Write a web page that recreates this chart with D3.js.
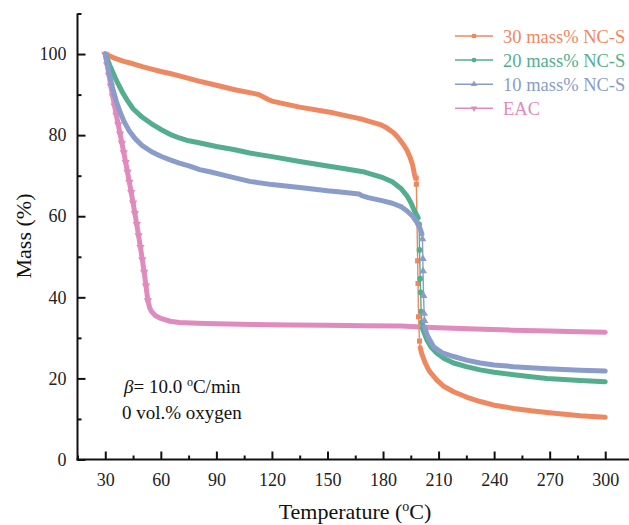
<!DOCTYPE html>
<html>
<head>
<meta charset="utf-8">
<script src="https://cdn.jsdelivr.net/npm/d3@7"></script>
<style>
  html, body { margin: 0; padding: 0; background: #fff; }
  svg { display: block; font-family: "Liberation Serif", "Times New Roman", serif; }
</style>
</head>
<body>
<div id="chart"></div>
<script>
// Legend entries, colours and marker shapes
const seriesNames = ["30 mass% NC-S", "20 mass% NC-S", "10 mass% NC-S", "EAC"];
const seriesColors = ["#EE8860", "#54AE8E", "#8A9CCA", "#E08BBD"];

// Axis ticks
const xTicks = [30, 60, 90, 120, 150, 180, 210, 240, 270, 300];
const xMinorTicks = [15, 45, 75, 105, 135, 165, 195, 225, 255, 285];
const yTicks = [0, 20, 40, 60, 80, 100];
const yMinorTicks = [10, 30, 50, 70, 90, 110];

// 30 mass% NC-S : slow loss, then the sharp step near 198 °C
const temp30 = [30, 35, 40, 45, 50, 55, 60, 65, 70, 75, 80, 90, 100, 110, 113, 118, 120, 135, 153, 168, 178.5, 182, 185.7, 188, 191, 193, 194.7, 196, 196.8, 197.4];
const mass30 = [100, 99.0, 98.2, 97.6, 96.9, 96.3, 95.7, 95.2, 94.6, 94.0, 93.4, 92.3, 91.2, 90.3, 90.0, 88.8, 88.4, 86.9, 85.5, 84.0, 82.6, 81.8, 80.6, 79.5, 77.7, 76.2, 74.4, 72.6, 70.7, 69.5];
const stepTemp30 = [197.9, 198.0, 198.7, 198.9, 199.2, 199.7];
const stepMass30 = [69.4, 67.9, 49.0, 43.4, 35.2, 29.2];
const tailTemp30 = [200.1, 201, 202.8, 205, 209.1, 213, 218.1, 225, 232.5, 240, 250.5, 260, 268.5, 286.5, 300];
const tailMass30 = [27.6, 26.0, 23.8, 21.8, 19.6, 18.0, 16.7, 15.4, 14.3, 13.4, 12.6, 12.0, 11.6, 10.8, 10.4];

// 20 mass% NC-S
const temp20 = [30, 33, 36, 39, 42, 45, 50, 55, 60, 65, 70, 75, 80, 90, 100, 108, 120, 135, 150, 157, 170, 180, 185, 190, 193, 195, 197, 199];
const mass20 = [100, 96.6, 93.5, 90.8, 88.5, 86.5, 84.4, 82.8, 81.4, 80.2, 79.3, 78.6, 78.2, 77.2, 76.4, 75.6, 74.7, 73.5, 72.4, 71.9, 70.9, 69.5, 68.5, 66.7, 65.0, 63.4, 61.3, 59.6];
const stepTemp20 = [199.5, 199.7, 200.1, 200.3, 200.6, 201.0];
const stepMass20 = [58.0, 51.7, 44.6, 41.2, 36.5, 33.8];
const tailTemp20 = [201.2, 203.7, 206, 209.1, 213, 218.1, 225, 232.5, 240, 250.5, 268.5, 286.5, 300];
const tailMass20 = [32.4, 29.5, 27.7, 26.2, 24.9, 23.8, 22.9, 22.1, 21.5, 20.9, 20.0, 19.5, 19.2];

// 10 mass% NC-S
const temp10 = [30, 32, 34, 36, 38, 40, 43, 46, 50, 55, 60, 65, 70, 76, 81, 87, 95, 108, 120, 135, 150, 157, 167, 168.5, 172, 180, 185, 190, 193, 196, 198, 200, 201];
const mass10 = [100, 95.5, 91.5, 88.3, 85.7, 83.5, 81.0, 79.2, 77.4, 75.9, 74.8, 73.9, 73.1, 72.3, 71.5, 70.9, 70.0, 68.6, 67.8, 67.1, 66.3, 66.0, 65.5, 65.1, 64.6, 63.8, 63.2, 62.3, 61.3, 60.0, 58.7, 57.0, 55.6];
const stepTemp10 = [201.3, 201.5, 201.6, 201.9, 202.2, 202.4];
const stepMass10 = [54.4, 49.5, 46.5, 40.4, 36.0, 34.2];
const tailTemp10 = [202.5, 204, 207.3, 212, 218.1, 225, 232.5, 240, 250.5, 268.5, 286.5, 300];
const tailMass10 = [32.6, 30.5, 27.8, 26.3, 25.4, 24.5, 23.8, 23.3, 22.9, 22.4, 22.0, 21.8];

// EAC : fast early loss, then a flat residue
const tempEAC = [30, 31, 32, 33, 34, 35, 36, 37, 38, 39, 40, 41, 42, 43, 44, 45, 46, 47, 48, 49, 50, 51, 52, 53];
const massEAC = [100, 97.4, 94.8, 92.1, 89.6, 87.2, 84.9, 82.6, 80.3, 78.0, 75.7, 73.3, 70.9, 68.4, 65.9, 63.3, 60.7, 58.0, 55.2, 52.3, 49.3, 46.2, 42.8, 39.2];
const tailTempEAC = [53, 54, 55, 57, 60, 65, 70, 80, 90, 110, 130, 150, 170, 190, 200, 210, 230, 250, 270, 286, 300];
const tailMassEAC = [39.2, 37.4, 36.5, 35.5, 34.8, 34.1, 33.8, 33.6, 33.5, 33.3, 33.2, 33.1, 33.0, 32.9, 32.7, 32.5, 32.2, 31.9, 31.7, 31.5, 31.4];

const zip = (t, m) => t.map((v, i) => [v, m[i]]);

const series = [
  { name: seriesNames[0], color: seriesColors[0], symbol: d3.symbolSquare, rot: 0, size: 26,
    head: zip(temp30, mass30), step: zip(stepTemp30, stepMass30), tail: zip(tailTemp30, tailMass30), headMarks: false },
  { name: seriesNames[1], color: seriesColors[1], symbol: d3.symbolCircle, rot: 0, size: 26,
    head: zip(temp20, mass20), step: zip(stepTemp20, stepMass20), tail: zip(tailTemp20, tailMass20), headMarks: false },
  { name: seriesNames[2], color: seriesColors[2], symbol: d3.symbolTriangle, rot: 0, size: 26,
    head: zip(temp10, mass10), step: zip(stepTemp10, stepMass10), tail: zip(tailTemp10, tailMass10), headMarks: false },
  { name: seriesNames[3], color: seriesColors[3], symbol: d3.symbolTriangle, rot: 180, size: 30,
    head: zip(tempEAC, massEAC), step: [], tail: zip(tailTempEAC, tailMassEAC), headMarks: true }
];

const W = 629, H = 525;
const svg = d3.select("#chart").append("svg").attr("width", W).attr("height", H);

const x = d3.scaleLinear().domain([15, 315]).range([77.5, 633]);
const y = d3.scaleLinear().domain([0, 110]).range([459.5, 13.5]);

const line = d3.line().x(d => x(d[0])).y(d => y(d[1]));

const plot = svg.append("g");

// draw EAC first, NC-S curves on top of it
const drawOrder = [3, 0, 1, 2];
drawOrder.forEach(i => {
  const s = series[i];
  const all = s.head.concat(s.step, s.tail);
  const g = plot.append("g");
  g.append("path").attr("d", line(all)).attr("fill", "none")
    .attr("stroke", s.color).attr("stroke-width", 1.4);
  [s.head, s.tail].forEach(seg => {
    g.append("path").attr("d", line(seg)).attr("fill", "none")
      .attr("stroke", s.color).attr("stroke-width", 5)
      .attr("stroke-linecap", "round").attr("stroke-linejoin", "round");
  });
  const marks = s.headMarks ? s.head.concat(s.step) : s.step;
  g.selectAll("path.mk").data(marks).join("path").attr("class", "mk")
    .attr("d", d3.symbol().type(s.symbol).size(s.size))
    .attr("transform", d => `translate(${x(d[0])},${y(d[1])}) rotate(${s.rot})`)
    .attr("fill", s.color);
});

// axes
const axisColor = "#111";
const xAxis = svg.append("g").attr("transform", `translate(0,${y(0)})`);
xAxis.call(d3.axisBottom(x).tickValues(xTicks).tickSize(-8).tickPadding(14).tickFormat(d3.format("d")));
xAxis.append("g").call(d3.axisBottom(x).tickValues(xMinorTicks).tickSize(-4).tickFormat(""));
xAxis.selectAll(".domain").remove();
xAxis.append("line").attr("x1", x(15) - 1).attr("x2", W).attr("stroke", axisColor).attr("stroke-width", 2);

const yAxis = svg.append("g").attr("transform", `translate(${x(15)},0)`);
yAxis.call(d3.axisLeft(y).tickValues(yTicks).tickSize(-8).tickPadding(11).tickFormat(d3.format("d")));
yAxis.append("g").call(d3.axisLeft(y).tickValues(yMinorTicks).tickSize(-4).tickFormat(""));
yAxis.selectAll(".domain").remove();
yAxis.append("line").attr("y1", y(110)).attr("y2", y(0) + 1).attr("stroke", axisColor).attr("stroke-width", 2);

svg.selectAll(".tick line").attr("stroke", axisColor).attr("stroke-width", 2);
svg.selectAll(".tick text").attr("fill", "#222").style("font-size", "18px")
  .style("font-family", "'Liberation Serif', serif");

// axis titles
const xTitle = svg.append("text").attr("x", 355).attr("y", 519).attr("text-anchor", "middle")
  .style("font-size", "22px").attr("fill", "#111");
xTitle.append("tspan").text("Temperature (");
xTitle.append("tspan").text("o").attr("dy", -8).style("font-size", "14px");
xTitle.append("tspan").text("C)").attr("dy", 8);

svg.append("text").attr("transform", "translate(31,236) rotate(-90)").attr("text-anchor", "middle")
  .style("font-size", "22px").attr("fill", "#111").text("Mass (%)");

// legend
const lg = svg.append("g");
series.forEach((s, i) => {
  const cy = 36 + i * 24.1;
  lg.append("line").attr("x1", 455).attr("x2", 493).attr("y1", cy).attr("y2", cy)
    .attr("stroke", s.color).attr("stroke-width", 1.5);
  lg.append("path").attr("d", d3.symbol().type(s.symbol).size(18))
    .attr("transform", `translate(474,${cy}) rotate(${s.rot})`).attr("fill", s.color);
  lg.append("text").attr("x", 503).attr("y", cy + 6.5).style("font-size", "18.5px")
    .attr("fill", s.color).text(s.name);
});

// heating rate / atmosphere note
const note1 = svg.append("text").attr("x", 124).attr("y", 393).style("font-size", "19px").attr("fill", "#111");
note1.append("tspan").text("β").style("font-style", "italic");
note1.append("tspan").text("= 10.0 ");
note1.append("tspan").text("o").attr("dy", -7).style("font-size", "12px");
note1.append("tspan").text("C/min").attr("dy", 7);
svg.append("text").attr("x", 122).attr("y", 419).style("font-size", "19px").attr("fill", "#111")
  .text("0 vol.% oxygen");
</script>
</body>
</html>
